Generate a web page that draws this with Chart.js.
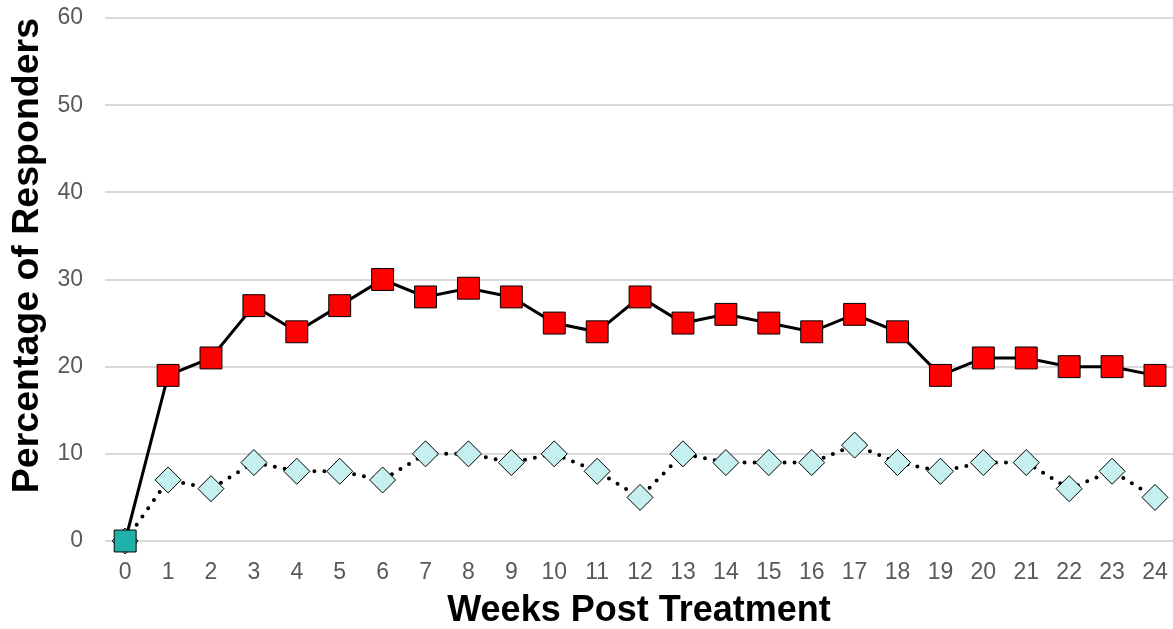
<!DOCTYPE html>
<html>
<head>
<meta charset="utf-8">
<script src="https://cdn.jsdelivr.net/npm/chart.js@4"></script>
<style>
  html, body { margin: 0; padding: 0; background: #fff; }
</style>
</head>
<body>
<canvas id="chart" width="1173" height="629"></canvas>
<script>
// weeks and response rates
const weeks = ['0','1','2','3','4','5','6','7','8','9','10','11','12','13','14','15','16','17','18','19','20','21','22','23','24']
const treated = [0,19,21,27,24,27,30,28,29,28,25,24,28,25,26,25,24,26,24,19,21,21,20,20,19]
const control = [0,7,6,9,8,8,7,10,10,9,10,8,5,10,9,9,9,11,9,8,9,9,6,8,5]
const yTicks = [0,10,20,30,40,50,60]

const FONT = 'Liberation Sans, Arial, sans-serif'
const TICK_COLOR = '#595959'
const GRID_COLOR = '#d9d9d9'

const ctx = document.getElementById('chart').getContext('2d')
new Chart(ctx, {
  type: 'line',
  data: {
    labels: weeks,
    datasets: [
      {
        data: treated,
        borderColor: '#000',
        borderWidth: 3,
        pointStyle: 'rect',
        pointRadius: 15.5,
        pointBorderWidth: 1,
        pointBorderColor: '#000',
        pointBackgroundColor: treated.map((_, i) => i === 0 ? '#20b2aa' : '#ff0000'),
        tension: 0,
        clip: false,
      },
      {
        data: control,
        borderColor: '#000',
        borderWidth: 4,
        borderDash: [0, 10],
        borderCapStyle: 'round',
        pointStyle: 'rectRot',
        pointRadius: 13,
        pointBorderWidth: 1,
        pointBorderColor: '#000',
        pointBackgroundColor: '#c6f0f0',
        tension: 0,
        clip: false,
      },
    ],
  },
  options: {
    responsive: false,
    animation: false,
    layout: { autoPadding: false, padding: 0 },
    plugins: { legend: { display: false }, tooltip: { enabled: false } },
    scales: {
      x: {
        type: 'linear',
        min: -0.47,
        max: 24.42,
        afterBuildTicks: axis => { axis.ticks = weeks.map(w => ({ value: +w })) },
        afterFit: axis => { axis.height = 88; axis.paddingLeft = 0; axis.paddingRight = 0 },
        grid: { display: false, drawTicks: false },
        border: { display: false },
        ticks: { color: TICK_COLOR, font: { family: FONT, size: 23 }, padding: 18, maxRotation: 0, autoSkip: false },
        title: { display: true, text: 'Weeks Post Treatment', color: '#000', font: { family: FONT, size: 36, weight: 'bold' }, padding: { top: 0, bottom: -4 } },
      },
      y: {
        min: 0,
        max: 60,
        afterBuildTicks: axis => { axis.ticks = yTicks.map(v => ({ value: v })) },
        afterFit: axis => { axis.width = 105; axis.paddingTop = 18 },
        grid: { color: GRID_COLOR, lineWidth: 2, drawTicks: false },
        border: { display: false },
        ticks: { color: TICK_COLOR, font: { family: FONT, size: 23 }, padding: 22 },
        title: { display: true, align: 'end', text: 'Percentage of Responders', color: '#000', font: { family: FONT, size: 37.5, weight: 'bold' }, padding: { top: 5, bottom: 0 } },
      },
    },
  },
})
</script>
</body>
</html>
